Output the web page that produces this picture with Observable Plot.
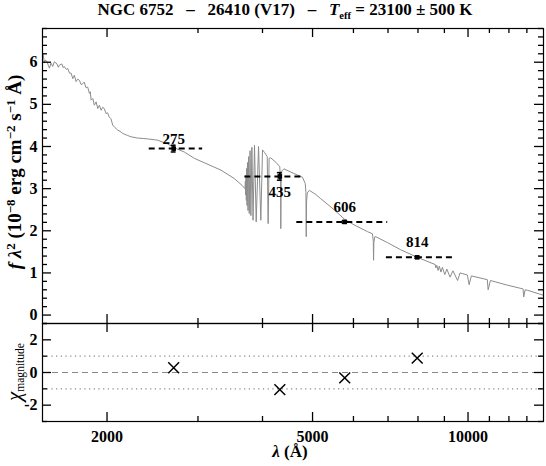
<!DOCTYPE html>
<html><head><meta charset="utf-8">
<script src="https://cdn.jsdelivr.net/npm/d3@7"></script>
<script src="https://cdn.jsdelivr.net/npm/@observablehq/plot@0.6"></script>
<style>
body{margin:0;background:#fff;}
#wrap{position:relative;width:546px;height:466px;font-family:"Liberation Serif","DejaVu Serif",serif;color:#000;}
#wrap svg{display:block;}
.title{position:absolute;top:0px;left:24px;width:522px;text-align:center;font-weight:bold;font-size:17px;white-space:pre;}
.ylab{position:absolute;font-weight:bold;font-size:19px;white-space:pre;transform:translate(-50%,-50%) rotate(-90deg);}
.xlab{position:absolute;font-weight:bold;font-size:17px;white-space:nowrap;transform:translate(-50%,-50%);}
sup{font-size:68%;vertical-align:0;position:relative;top:-0.5em;}
sub{font-size:62%;vertical-align:0;position:relative;top:0.35em;}
</style></head>
<body>
<div id="wrap">
  <div id="top"></div>
  <div id="bot"></div>
  <div class="title">NGC 6752   –   26410 (V17)   –   <i>T</i><sub>eff</sub> = 23100 ± 500 K</div>
  <div class="ylab" style="left:15px;top:172px;"><i>f</i> <i>λ</i><sup>2</sup> (10<sup>−8</sup> erg cm<sup>−2</sup> s<sup>−1</sup> Å)</div>
  <div class="ylab" style="left:14px;top:372px;font-weight:normal;font-size:21px;"><i>χ</i><sub style="font-size:55%;top:0.3em;">magnitude</sub></div>
  <div class="xlab" style="left:290px;top:452px;"><i>λ</i> (Å)</div>
</div>
<script>
// ---- data ----
const specWave = [1505,1512,1517,1530,1540,1547,1558,1570,1581,1600,1610,1617,1635,1645,1653,1668,1679,1692,1704,1717,1729,1742,1755,1768,1782,1795,1807,1820,1835,1849,1856,1863,1877,1890,1905,1919,1933,1948,1962,1976,1991,2005,2020,2035,2051,2072,2097,2120,2145,2193,2226,2293,2350,2397,2469,2507,2582,2621,2699,2822,2951,3040,3323,3527,3650,3700,
  3706,3712,3716,3722,3727,3734,3741,3750,3760,3771,3784,3798,3815,3835,3860,3889,3930,3970,4000,4035,4085,4102,4120,4150,4250,4320,4336,4340,4346,4360,4400,4600,4781,4840,4855,4861,4868,4885,4930,5073,5187,5504,5770,6018,6387,6530,6555,6563,6572,6600,6626,6981,7406,7979,8592,
  8640,8665,8700,8750,8800,8863,8920,9015,9100,9229,9350,9546,9650,9970,10049,10150,10899,10938,11050,11915,12780,12818,12900,13024,14000];
const specFlux = [6.19,5.98,6.05,6.02,5.92,5.86,5.98,5.90,6.01,5.96,5.88,5.93,5.96,5.87,5.90,5.83,5.85,5.74,5.74,5.61,5.69,5.54,5.60,5.57,5.47,5.49,5.53,5.40,5.41,5.26,5.30,5.10,5.14,4.98,5.06,4.90,4.98,4.86,4.93,4.90,4.78,4.80,4.70,4.66,4.51,4.45,4.39,4.36,4.31,4.26,4.23,4.20,4.19,4.18,4.16,4.15,4.09,4.06,3.97,3.87,3.72,3.65,3.44,3.24,3.08,3.00,
  3.18,2.85,3.32,2.72,3.48,2.60,3.62,2.48,3.76,2.41,3.90,2.36,3.98,2.25,4.03,2.21,4.00,2.25,3.92,3.86,3.76,2.17,3.72,3.73,3.62,3.52,3.20,2.05,3.20,3.42,3.47,3.36,3.27,3.12,2.90,1.86,2.70,2.90,2.96,2.86,2.76,2.50,2.27,2.14,1.98,1.93,1.75,1.30,1.72,1.86,1.86,1.72,1.55,1.37,1.21,
  1.20,1.12,1.18,1.06,1.16,1.02,1.13,0.96,1.09,0.90,1.05,0.82,1.00,0.95,0.72,0.93,0.84,0.60,0.82,0.71,0.62,0.43,0.60,0.59,0.47];

const filters   = ["275","435","606","814"];
const photWave  = [2692, 4321, 5771, 7973];
const photFlux  = [3.95, 3.29, 2.21, 1.37];
const photErr   = [0.08, 0.09, 0.03, 0.02];
const bandLo    = [2414, 3698, 4661, 6950];
const bandHi    = [3063, 4781, 6990, 9421];
const chiMag    = [0.29, -1.05, -0.33, 0.88];

const xMajor = [2000, 5000, 10000];
const xMinor = [3000, 4000, 6000, 7000, 8000, 9000, 11000, 12000, 13000];
const yTopMajor = [0, 1, 2, 3, 4, 5, 6];
const yBotMajor = [-2, 0, 2];
const yBotMinor = [-3, -1, 1, 3];

// ---- tables ----
const spec = specWave.map((w, i) => ({w, f: specFlux[i]}));
const phot = filters.map((lab, i) => ({lab, w: photWave[i], f: photFlux[i], e: photErr[i], lo: bandLo[i], hi: bandHi[i], c: chiMag[i]}));
const yTopMinor = d3.range(-0.2, 6.81, 0.2).map(v => Math.round(v * 10) / 10).filter(v => !Number.isInteger(v));

const xDomain = [1500, 14000];
const W = 546, ML = 42, MR = 3;
const FW = W - ML - MR;
const font = {fontFamily: "'Liberation Serif', 'DejaVu Serif', serif", fontSize: "16px", fontWeight: "bold", background: "transparent", overflow: "visible"};

// inward ticks on all four sides of a frame of height FH
function frameTicks(FH, yMajor, yMinor) {
  const s = {stroke: "#000", strokeWidth: 1.3};
  return [
    Plot.tickX(xMajor, {x: d => d, insetTop: FH - 9, ...s}),
    Plot.tickX(xMinor, {x: d => d, insetTop: FH - 5, ...s}),
    Plot.tickX(xMajor, {x: d => d, insetBottom: FH - 9, ...s}),
    Plot.tickX(xMinor, {x: d => d, insetBottom: FH - 5, ...s}),
    Plot.tickY(yMajor, {y: d => d, insetRight: FW - 9, ...s}),
    Plot.tickY(yMinor, {y: d => d, insetRight: FW - 5, ...s}),
    Plot.tickY(yMajor, {y: d => d, insetLeft: FW - 9, ...s}),
    Plot.tickY(yMinor, {y: d => d, insetLeft: FW - 5, ...s}),
  ];
}

const topH = 323, topMT = 28;
const topPlot = Plot.plot({
  width: W, height: topH,
  marginTop: topMT, marginBottom: 0, marginLeft: ML, marginRight: MR,
  style: font,
  x: {type: "log", domain: xDomain, axis: null},
  y: {domain: [-0.2, 6.8], axis: null},
  marks: [
    Plot.line(spec, {x: "w", y: "f", stroke: "#8c8c8c", strokeWidth: 1, clip: true}),
    Plot.ruleY(phot, {y: "f", x1: "lo", x2: "hi", stroke: "#000", strokeWidth: 2, strokeDasharray: "6,4"}),
    Plot.ruleX(phot, {x: "w", y1: d => d.f - d.e, y2: d => d.f + d.e, stroke: "#000", strokeWidth: 2}),
    Plot.ruleY(phot, {y: d => d.f + d.e, x1: d => d.w / 1.011, x2: d => d.w * 1.011, stroke: "#000", strokeWidth: 1.5}),
    Plot.ruleY(phot, {y: d => d.f - d.e, x1: d => d.w / 1.011, x2: d => d.w * 1.011, stroke: "#000", strokeWidth: 1.5}),
    Plot.dot(phot, {x: "w", y: "f", r: 2.6, symbol: "square", fill: "#000"}),
    Plot.text(phot, {filter: d => d.lab === "275", x: "w", y: "f", text: "lab", dy: -9, fontSize: 15}),
    Plot.text(phot, {filter: d => d.lab === "435", x: "w", y: "f", text: "lab", dy: 16, fontSize: 15}),
    Plot.text(phot, {filter: d => d.lab === "606" || d.lab === "814", x: "w", y: "f", text: "lab", dy: -15, fontSize: 15}),
    Plot.frame({stroke: "#000", strokeWidth: 1.2}),
    ...frameTicks(topH - topMT, yTopMajor, yTopMinor),
    Plot.axisY({ticks: yTopMajor, anchor: "left", tickSize: 0, tickPadding: 5, tickFormat: d => String(d), label: null}),
  ]
});

const botH = 143, botMB = 45;
const botPlot = Plot.plot({
  width: W, height: botH,
  marginTop: 0, marginBottom: botMB, marginLeft: ML, marginRight: MR,
  style: font,
  x: {type: "log", domain: xDomain},
  y: {domain: [-3, 3]},
  marks: [
    Plot.ruleY([0], {stroke: "#888", strokeWidth: 1.2, strokeDasharray: "6,4"}),
    Plot.ruleY([-1, 1], {stroke: "#888", strokeWidth: 1.2, strokeDasharray: "1.2,3.5"}),
    Plot.dot(phot, {x: "w", y: "c", symbol: "times", r: 5, stroke: "#000", strokeWidth: 1.5}),
    Plot.frame({stroke: "#000", strokeWidth: 1.2}),
    ...frameTicks(botH - botMB, yBotMajor, yBotMinor),
    Plot.axisY({ticks: yBotMajor, anchor: "left", tickSize: 0, tickPadding: 5, tickFormat: d => String(d), label: null}),
    Plot.axisX({ticks: xMajor, anchor: "bottom", tickSize: 0, tickPadding: 9, tickFormat: d => String(d), label: null}),
  ]
});

document.getElementById("top").appendChild(topPlot);
document.getElementById("bot").appendChild(botPlot);
</script>
</body></html>
